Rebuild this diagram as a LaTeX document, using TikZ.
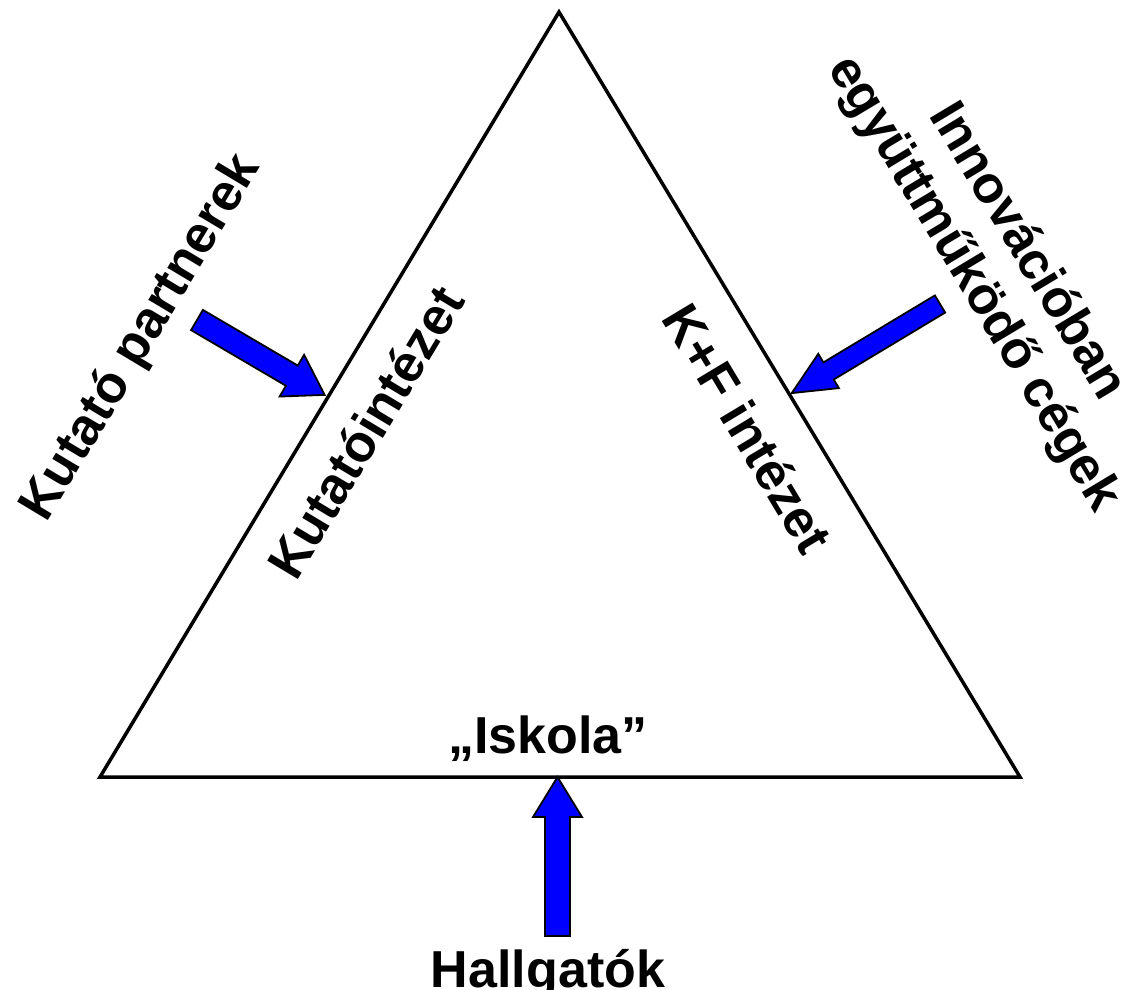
\documentclass[tikz,border=0pt]{standalone}
\usepackage{fontspec}
\setmainfont{Liberation Sans}
\newcommand{\myblockarrow}[6]{%
  \begin{scope}[shift={#1}, rotate=#2]
    \draw[barrow] (0,-#5) -- ({#3-#4},-#5) -- ({#3-#4},-#6) -- (#3,0)
      -- ({#3-#4},#6) -- ({#3-#4},#5) -- (0,#5) -- cycle;
  \end{scope}}
\begin{document}
\begin{tikzpicture}[x=1pt,y=-1pt,
  lbl/.style={font=\fontsize{52}{62}\selectfont\bfseries, inner sep=0pt, align=center},
  barrow/.style={draw=black, line width=1.8pt, fill=blue, line join=miter},
  side/.style={draw=black, line width=3.5pt, line join=miter}]
\useasboundingbox (0,0) rectangle (1129,989);
\coordinate (A) at (559,12);
\coordinate (B) at (100,777);
\coordinate (C) at (1020,777);
\draw[side] (A) -- (B) -- (C) -- cycle;
% block arrows
\myblockarrow{(557.5,936)}{90}{159}{40}{12.5}{24.5}
\myblockarrow{(197,320)}{-30.4}{148}{38}{11.7}{24.2}
\myblockarrow{(940,304)}{-149}{173}{43}{10}{20}
% labels
\node[lbl, anchor=base] (iskola) at (548,753) {„Iskola”};
\node[lbl, anchor=base] (hallg) at (548,987) {Hallgatók};
\node[lbl, rotate=59] (kp) at (142,338) {Kutató partnerek};
\node[lbl, rotate=59] (ki) at (365,432) {Kutatóintézet};
\node[lbl, rotate=-59] (kf) at (748,428) {K+F intézet};
\node[lbl, rotate=-59] (inn) at (1000,268) {Innovációban\\együttműködő cégek};
\end{tikzpicture}
\end{document}
